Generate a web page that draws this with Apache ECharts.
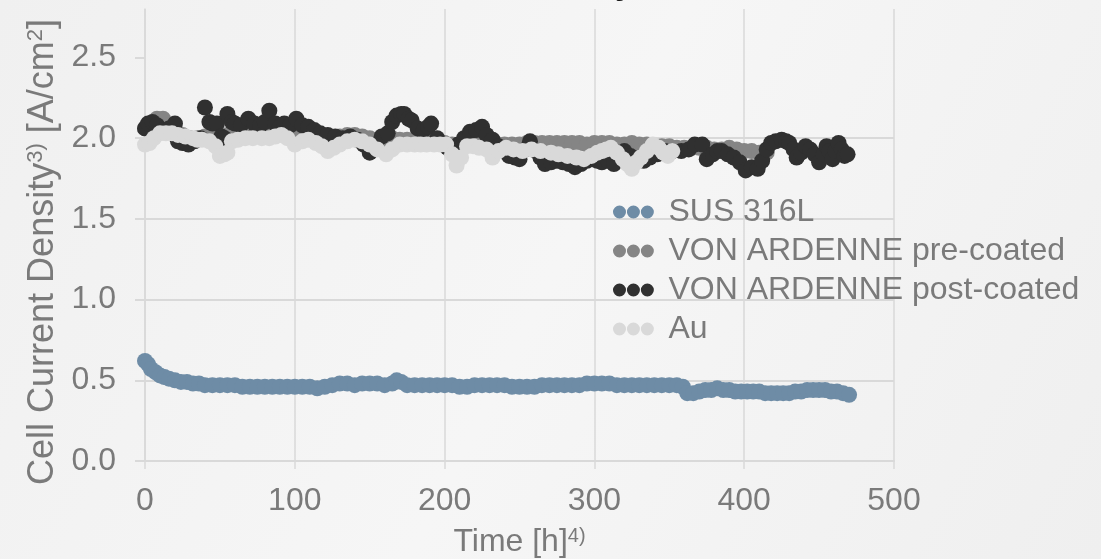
<!DOCTYPE html>
<html>
<head>
<meta charset="utf-8">
<script src="https://cdn.jsdelivr.net/npm/echarts@6/dist/echarts.min.js"></script>
<style>
  html, body { margin: 0; padding: 0; }
  #chart { width: 1101px; height: 559px; }
</style>
</head>
<body>
<div id="chart"></div>
<script>
// values, [time h, current density A/cm2]
var seriesNames = ['SUS 316L', 'VON ARDENNE pre-coated', 'VON ARDENNE post-coated', 'Au'];
var seriesColors = ['#6e8ca6', '#858585', '#303030', '#d9d9d9'];
var xTicks = [0, 100, 200, 300, 400, 500];
var yTicks = [0, 0.5, 1, 1.5, 2, 2.5];

var sus316L = [
  [0, 0.62], [2, 0.60], [4, 0.57], [7, 0.55], [10, 0.53], [13, 0.52], [16, 0.51], [20, 0.50],
  [24, 0.49], [28, 0.49], [32, 0.48], [36, 0.48], [40, 0.47], [45, 0.47], [50, 0.47], [55, 0.47],
  [60, 0.47], [65, 0.46], [70, 0.46], [75, 0.46], [80, 0.46], [85, 0.46], [90, 0.46], [95, 0.46],
  [100, 0.46], [105, 0.46], [110, 0.46], [115, 0.45], [120, 0.46], [125, 0.47], [130, 0.48], [135, 0.48],
  [140, 0.47], [145, 0.48], [150, 0.48], [155, 0.48], [160, 0.47], [165, 0.48], [168, 0.50], [171, 0.49],
  [175, 0.47], [180, 0.47], [185, 0.47], [190, 0.47], [195, 0.47], [200, 0.47], [205, 0.47], [210, 0.46],
  [215, 0.46], [220, 0.47], [225, 0.47], [230, 0.47], [235, 0.47], [240, 0.47], [245, 0.46], [250, 0.46],
  [255, 0.46], [260, 0.46], [265, 0.47], [270, 0.47], [275, 0.47], [280, 0.47], [285, 0.47], [290, 0.47],
  [295, 0.48], [300, 0.48], [305, 0.48], [310, 0.48], [315, 0.47], [320, 0.47], [325, 0.47], [330, 0.47],
  [335, 0.47], [340, 0.47], [345, 0.47], [350, 0.47], [355, 0.47], [359, 0.46], [362, 0.42], [366, 0.42],
  [370, 0.43], [374, 0.44], [378, 0.44], [382, 0.45], [386, 0.44], [390, 0.44], [394, 0.43], [398, 0.43],
  [402, 0.43], [406, 0.43], [410, 0.43], [414, 0.42], [418, 0.42], [422, 0.42], [426, 0.42], [430, 0.42],
  [434, 0.43], [438, 0.43], [442, 0.44], [446, 0.44], [450, 0.44], [454, 0.44], [458, 0.43], [462, 0.43],
  [466, 0.42], [470, 0.41]
];

var preCoated = [
  [0, 2.06], [4, 2.08], [8, 2.12], [12, 2.12], [16, 2.08], [20, 2.05], [25, 2.02], [30, 2.00],
  [35, 2.00], [40, 2.01], [45, 2.00], [50, 1.99], [55, 2.02], [60, 2.03], [65, 2.03], [70, 2.04],
  [75, 2.04], [80, 2.05], [85, 2.05], [90, 2.05], [95, 2.04], [100, 2.03], [105, 2.02], [110, 2.02],
  [115, 2.01], [120, 2.00], [125, 2.00], [130, 2.01], [135, 2.02], [140, 2.02], [145, 2.01], [150, 2.00],
  [155, 1.99], [160, 1.99], [165, 2.00], [170, 1.99], [175, 1.99], [180, 1.99], [185, 1.99], [190, 1.98],
  [195, 1.98], [200, 1.97], [205, 1.96], [210, 1.96], [215, 1.97], [220, 1.97], [225, 1.97], [230, 1.97],
  [235, 1.96], [240, 1.96], [245, 1.96], [250, 1.96], [255, 1.97], [260, 1.97], [265, 1.97], [270, 1.97],
  [275, 1.97], [280, 1.97], [285, 1.97], [290, 1.97], [295, 1.96], [300, 1.97], [305, 1.97], [310, 1.97],
  [315, 1.96], [320, 1.96], [325, 1.97], [330, 1.96], [335, 1.96], [340, 1.95], [345, 1.95], [350, 1.95],
  [355, 1.94], [360, 1.94], [365, 1.94], [370, 1.94], [375, 1.94], [380, 1.93], [385, 1.93], [390, 1.94],
  [395, 1.93], [400, 1.92], [405, 1.92], [410, 1.91], [415, 1.91]
];

var postCoated = [
  [0, 2.06], [2, 2.09], [5, 2.10], [8, 2.08], [12, 2.05], [16, 2.06], [20, 2.09], [22, 1.98],
  [25, 1.97], [29, 1.96], [33, 1.98], [37, 2.00], [40, 2.19], [43, 2.10], [45, 2.09], [48, 2.09],
  [51, 2.01], [53, 2.00], [55, 2.15], [58, 2.10], [60, 2.09], [64, 2.08], [69, 2.12], [73, 2.09],
  [77, 2.08], [80, 2.10], [83, 2.17], [87, 2.09], [90, 2.07], [93, 2.09], [97, 2.08], [101, 2.12],
  [105, 2.08], [109, 2.07], [113, 2.05], [117, 2.03], [122, 2.02], [127, 2.01], [132, 2.00], [137, 2.01],
  [142, 1.99], [146, 1.96], [150, 1.91], [154, 1.96], [158, 2.01], [162, 2.03], [165, 2.10], [168, 2.14],
  [171, 2.15], [173, 2.15], [176, 2.12], [178, 2.11], [182, 2.06], [186, 2.05], [189, 2.07], [191, 2.09],
  [195, 2.00], [199, 1.96], [202, 1.94], [205, 1.92], [209, 1.96], [213, 2.00], [217, 2.04], [221, 2.05],
  [225, 2.07], [228, 2.02], [232, 1.99], [236, 1.95], [240, 1.93], [243, 1.89], [247, 1.88], [250, 1.87],
  [254, 1.93], [257, 1.98], [261, 1.92], [264, 1.88], [267, 1.84], [271, 1.85], [275, 1.86], [279, 1.85],
  [283, 1.84], [287, 1.82], [291, 1.84], [295, 1.86], [299, 1.87], [302, 1.86], [305, 1.85], [309, 1.86],
  [313, 1.84], [317, 1.88], [320, 1.92], [324, 1.89], [328, 1.87], [333, 1.86], [337, 1.88], [342, 1.90],
  [347, 1.92], [352, 1.92], [358, 1.92], [363, 1.93], [367, 1.96], [372, 1.96], [375, 1.87], [379, 1.90],
  [382, 1.92], [385, 1.92], [389, 1.90], [393, 1.88], [397, 1.85], [401, 1.80], [405, 1.82], [409, 1.81],
  [412, 1.86], [415, 1.93], [418, 1.97], [421, 1.98], [425, 1.99], [428, 1.98], [430, 1.97], [433, 1.93],
  [435, 1.88], [438, 1.91], [441, 1.95], [444, 1.93], [447, 1.90], [450, 1.85], [453, 1.90], [455, 1.95],
  [457, 1.92], [459, 1.87], [461, 1.92], [463, 1.97], [465, 1.93], [467, 1.89], [469, 1.90]
];

var gold = [
  [0, 1.96], [3, 1.97], [6, 2.00], [10, 2.03], [14, 2.03], [18, 2.03], [22, 2.02], [27, 2.01],
  [32, 2.00], [35, 1.99], [38, 1.99], [43, 1.98], [47, 1.95], [50, 1.89], [53, 1.90], [55, 1.91],
  [58, 1.98], [62, 1.99], [67, 2.00], [72, 2.00], [78, 2.00], [83, 2.00], [87, 2.01], [91, 2.02],
  [95, 2.00], [100, 1.96], [105, 1.98], [109, 1.99], [114, 1.97], [118, 1.95], [122, 1.92], [126, 1.94],
  [130, 1.96], [135, 1.98], [140, 1.99], [145, 1.98], [150, 1.96], [155, 1.93], [161, 1.90], [165, 1.93],
  [170, 1.96], [175, 1.96], [180, 1.96], [184, 1.96], [188, 1.96], [193, 1.96], [197, 1.96], [201, 1.96],
  [205, 1.90], [208, 1.83], [211, 1.88], [215, 1.95], [219, 1.95], [223, 1.94], [228, 1.93], [232, 1.88],
  [236, 1.92], [241, 1.94], [246, 1.93], [252, 1.92], [258, 1.93], [264, 1.92], [271, 1.91], [276, 1.90],
  [282, 1.89], [288, 1.88], [293, 1.87], [298, 1.89], [302, 1.91], [305, 1.92], [308, 1.93], [311, 1.94],
  [315, 1.91], [319, 1.87], [322, 1.84], [325, 1.81], [328, 1.85], [331, 1.88], [335, 1.92], [339, 1.96],
  [343, 1.94], [346, 1.91], [349, 1.89], [352, 1.92]
];

var seriesData = [sus316L, preCoated, postCoated, gold];

var chartDom = document.getElementById('chart');
var myChart = echarts.init(chartDom);
var option;

var fontFamily = 'Liberation Sans, Arial, sans-serif';
var textGray = '#7a7a7a';
var gridGray = '#d9d9d9';

// legend marker: three dots in a row
var dotsIcon = 'path://M0,7A7,7,0,1,1,14,7A7,7,0,1,1,0,7ZM15,7A7,7,0,1,1,29,7A7,7,0,1,1,15,7ZM30,7A7,7,0,1,1,44,7A7,7,0,1,1,30,7Z';

option = {
  backgroundColor: {
    type: 'linear', x: 0, y: 0, x2: 1, y2: 1,
    colorStops: [
      { offset: 0, color: '#f0f0f0' },
      { offset: 0.5, color: '#f6f6f6' },
      { offset: 1, color: '#efefef' }
    ]
  },
  animation: false,
  textStyle: { fontFamily: fontFamily },
  // chart title sits above the picture, only its descender shows
  graphic: [{
    type: 'text',
    x: 634,
    y: 2,
    style: {
      text: 'Durability',
      textAlign: 'right',
      textVerticalAlign: 'bottom',
      font: 'bold 34px ' + fontFamily,
      fill: '#1a1a1a'
    }
  }],
  grid: { left: 145, right: 207, top: 9, bottom: 98, containLabel: false, outerBoundsMode: 'none' },
  legend: {
    orient: 'vertical',
    left: 613,
    top: 196,
    padding: 0,
    itemGap: 7,
    itemWidth: 42,
    itemHeight: 13,
    icon: dotsIcon,
    data: seriesNames,
    textStyle: { fontSize: 32, color: textGray, padding: [0, 0, 0, 9] }
  },
  xAxis: {
    type: 'value',
    min: 0,
    max: 500,
    interval: 100,
    name: '{a|Time [h]}{s|4)}',
    nameLocation: 'middle',
    nameGap: 65,
    nameTextStyle: {
      rich: {
        a: { fontSize: 32, color: textGray },
        s: { fontSize: 20, color: textGray, verticalAlign: 'top', padding: [0, 0, 12, 0] }
      }
    },
    axisLine: { show: true, lineStyle: { color: gridGray, width: 2 } },
    axisTick: { show: true, length: 8, lineStyle: { color: gridGray, width: 1.5 } },
    axisLabel: {
      margin: 24,
      fontSize: 32,
      color: textGray,
      customValues: xTicks
    },
    splitLine: { show: true, lineStyle: { color: gridGray, width: 1.5 } }
  },
  yAxis: {
    type: 'value',
    min: 0,
    max: 2.8,
    interval: 0.5,
    name: '{a|Cell Current Density}{s|3)}{a| [A/cm}{s|2}{a|]}',
    nameLocation: 'middle',
    nameGap: 84,
    nameTextStyle: {
      padding: [0, 34, 0, 0],
      rich: {
        a: { fontSize: 36, color: textGray },
        s: { fontSize: 22, color: textGray, verticalAlign: 'top', padding: [0, 0, 14, 0] }
      }
    },
    axisLine: { show: true, lineStyle: { color: gridGray, width: 1.5 } },
    axisTick: { show: true, length: 10, lineStyle: { color: gridGray, width: 2 }, customValues: yTicks },
    axisLabel: {
      margin: 29,
      fontSize: 32,
      color: textGray,
      customValues: yTicks,
      formatter: function (v) { return v.toFixed(1); }
    },
    splitLine: { show: true, showMaxLine: false, lineStyle: { color: gridGray, width: 2 } }
  },
  series: seriesNames.map(function (name, i) {
    return {
      name: name,
      type: 'scatter',
      data: seriesData[i],
      symbol: 'circle',
      symbolSize: 16,
      itemStyle: { color: seriesColors[i], opacity: 1 },
      z: 2 + i
    };
  })
};

option && myChart.setOption(option);
</script>
</body>
</html>
